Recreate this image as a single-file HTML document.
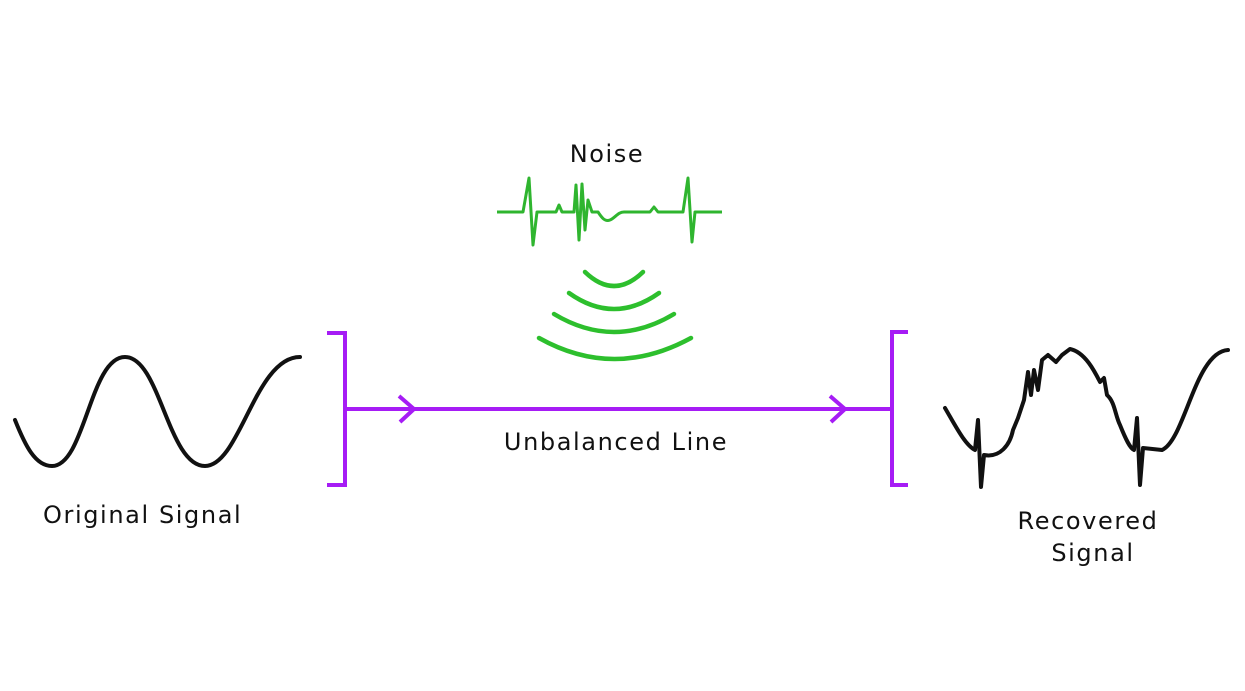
<!DOCTYPE html>
<html><head><meta charset="utf-8"><style>
html,body{margin:0;padding:0;background:#fff;}
svg{display:block}
text{font-family:"DejaVu Sans","Liberation Sans",sans-serif;font-size:24px;letter-spacing:1.6px;fill:#111;}
</style></head><body>
<svg width="1245" height="691" viewBox="0 0 1245 691" xmlns="http://www.w3.org/2000/svg">
<rect width="1245" height="691" fill="#fff"/>
<path d="M15,420 C25,445 35,466 52,466 C85,466 90,357 125,357 C160,357 168,466 205,466 C240,466 255,357 300,357" fill="none" stroke="#111" stroke-width="4" stroke-linecap="round"/>
<text x="43" y="523">Original Signal</text>
<g fill="none" stroke="#a61cf5" stroke-width="4">
<path d="M327,333 H345 V485 H327"/>
<path d="M908,332 H892 V485 H908"/>
<path d="M345,409 H892"/>
<path d="M399,396 L414,409 L400,422"/>
<path d="M830,396 L845,409 L831,422"/>
</g>
<text x="616" y="450" text-anchor="middle">Unbalanced Line</text>
<text x="607" y="162" text-anchor="middle">Noise</text>
<path d="M497,212 H523 L529,178 L533,245 L537,212 H556 L559,205 L562,212 H574 L576,185 L579,240 L582,184 L585,230 L588,200 L592,212 H598 C602,218 605,222 610,220 C615,218 618,212 624,212 H650 L654,207 L658,212 H683 L688,178 L692,242 L695,212 H722" fill="none" stroke="#2fb52f" stroke-width="3" stroke-linejoin="round"/>
<g fill="none" stroke="#2dbf2d" stroke-width="4.5" stroke-linecap="round">
<path d="M585,272 Q614,300 643,272"/>
<path d="M569,293 Q614,325 659,293"/>
<path d="M554,314 Q614,350 674,314"/>
<path d="M539,338 Q614,380 691,338"/>
</g>
<path d="M945,408 C955,425 965,445 975,450 L978,420 L981,487 L984,455 C1000,458 1010,445 1013,430 L1018,418 L1024,400 L1028,372 L1031,395 L1034,370 L1038,390 L1042,360 L1048,355 L1056,362 L1062,355 L1070,349 C1085,352 1095,372 1100,382 L1104,378 L1107,395 C1115,402 1115,415 1120,425 C1126,440 1130,448 1134,450 L1137,418 L1140,485 L1143,448 L1162,450 C1185,440 1195,352 1228,350" fill="none" stroke="#111" stroke-width="4" stroke-linejoin="round" stroke-linecap="round"/>
<text x="1088" y="529" text-anchor="middle">Recovered</text>
<text x="1093" y="561" text-anchor="middle">Signal</text>
</svg>
</body></html>
